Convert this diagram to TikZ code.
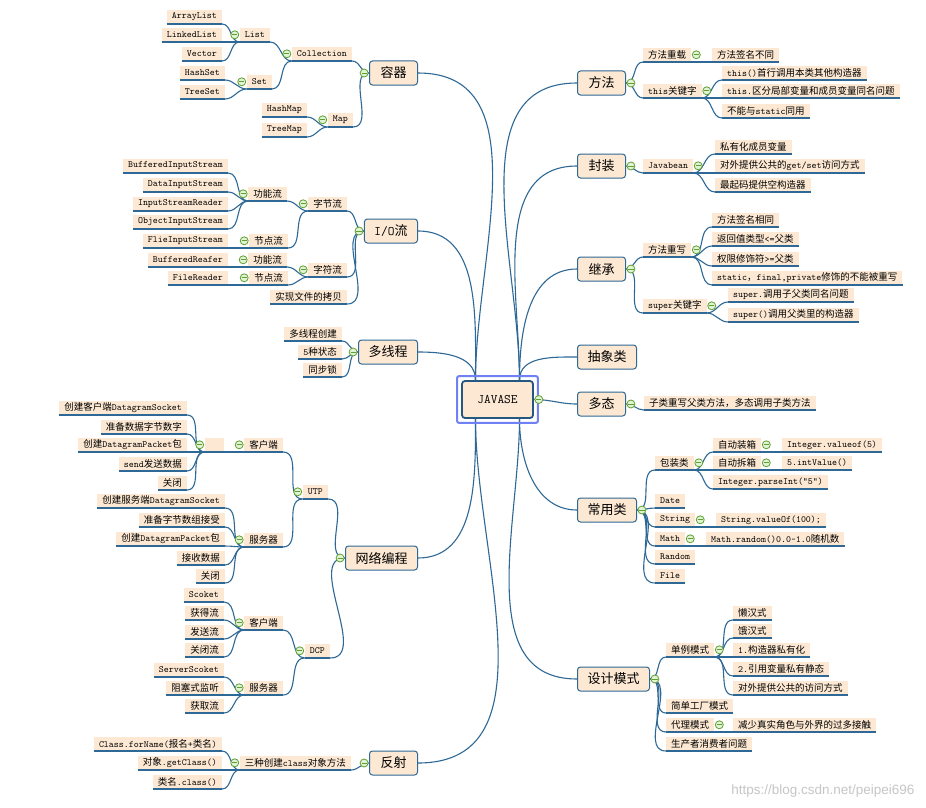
\documentclass[tikz,border=0pt]{standalone}
\usepackage{fontspec}
\usepackage{tikz}
\usetikzlibrary{positioning}

\newfontfamily\cjkfont{Noto Sans CJK SC}
\newfontfamily\wmfont{Liberation Sans}

% Chinese characters switch to the CJK family, everything else stays mono
\XeTeXinterchartokenstate=1
\newXeTeXintercharclass\cjkclass
\newcount\cjkcount
\cjkcount="4E00
\loop \XeTeXcharclass\cjkcount=\cjkclass \advance\cjkcount by 1 \ifnum\cjkcount<"A000 \repeat
\cjkcount="3000
\loop \XeTeXcharclass\cjkcount=\cjkclass \advance\cjkcount by 1 \ifnum\cjkcount<"3040 \repeat
\cjkcount="FF00
\loop \XeTeXcharclass\cjkcount=\cjkclass \advance\cjkcount by 1 \ifnum\cjkcount<"FFF0 \repeat
\XeTeXinterchartoks 0 \cjkclass = {\cjkfont}
\XeTeXinterchartoks 4095 \cjkclass = {\cjkfont}
\XeTeXinterchartoks \cjkclass 0 = {\ttfamily}

\definecolor{boxfill}{RGB}{253,233,211}
\definecolor{linkblue}{RGB}{46,104,150}
\definecolor{rootline}{RGB}{36,88,128}
\definecolor{togline}{RGB}{96,160,50}
\definecolor{togfill}{RGB}{226,242,212}
\definecolor{glowblue}{RGB}{112,128,245}

\newcommand\leaffont{\fontsize{9.5}{11}\selectfont\ttfamily}
\newcommand\topicfont{\fontsize{13}{15}\selectfont\ttfamily}
\newcommand\rootfont{\fontsize{13}{15}\selectfont\ttfamily}

\begin{document}
\begin{tikzpicture}[
    x=1pt, y=-1pt,
    link/.style={draw=linkblue, line width=1.1pt},
    root/.style={rectangle, rounded corners=3pt, draw=rootline, line width=1.8pt, fill=boxfill, minimum width=71pt, minimum height=37pt, font=\rootfont},
    topic/.style={rectangle, rounded corners=3pt, draw=linkblue, line width=1pt, fill=boxfill, minimum width=48pt, minimum height=24pt, inner xsep=10pt, font=\topicfont},
    leaf/.style={rectangle, fill=boxfill, inner xsep=5pt, inner ysep=0pt, minimum height=14pt, font=\leaffont,
        append after command={(\tikzlastnode.south west) edge[link] (\tikzlastnode.south east)}},
    lleaf/.style={leaf, anchor=south east},
    rleaf/.style={leaf, anchor=south west},
    tog/.style={circle, draw=togline, fill=togfill, line width=0.8pt, inner sep=0pt, minimum size=8pt,
        path picture={\draw[togline, line width=0.9pt] ([xshift=-2.6pt]path picture bounding box.center) -- ([xshift=2.6pt]path picture bounding box.center);}}
]
\useasboundingbox (0,0) rectangle (926,808);
\fill[white] (0,0) rectangle (926,808);

\node[root] (root) at (497.5,399.5) {JAVASE};

\node[topic, anchor=east] (cont) at (418,73) {容器};
\node[topic, anchor=east] (io) at (418,231) {I/O流};
\node[topic, anchor=east] (thread) at (418,352) {多线程};
\node[topic, anchor=east] (net) at (418,558) {网络编程};
\node[topic, anchor=east] (refl) at (418,763) {反射};

\node[topic, anchor=west] (meth) at (577,83) {方法};
\node[topic, anchor=west] (encap) at (577,166) {封装};
\node[topic, anchor=west] (inher) at (577,269) {继承};
\node[topic, anchor=west] (abs) at (577,357) {抽象类};
\node[topic, anchor=west] (poly) at (577,404) {多态};
\node[topic, anchor=west] (util) at (577,510) {常用类};
\node[topic, anchor=west] (design) at (577,679) {设计模式};

\node[lleaf] (arraylist) at (222,24) {ArrayList};
\node[lleaf] (linkedlist) at (222,42) {LinkedList};
\node[lleaf] (vector) at (222,61) {Vector};
\node[lleaf] (list) at (270,42) {List};
\node[lleaf] (hashset) at (225,80) {HashSet};
\node[lleaf] (treeset) at (225,99) {TreeSet};
\node[lleaf] (set) at (272,89) {Set};
\node[lleaf] (coll) at (352,61) {Collection};
\node[lleaf] (hashmap) at (307,117) {HashMap};
\node[lleaf] (treemap) at (307,137) {TreeMap};
\node[lleaf] (map) at (353,127) {Map};

\node[lleaf] (bis) at (228,173) {BufferedInputStream};
\node[lleaf] (dis) at (228,192) {DataInputStream};
\node[lleaf] (isr) at (228,211) {InputStreamReader};
\node[lleaf] (ois) at (228,229) {ObjectInputStream};
\node[lleaf] (bfunc) at (287,201) {功能流};
\node[lleaf] (fis) at (228,248) {FlieInputStream};
\node[lleaf] (bnode) at (288,248) {节点流};
\node[lleaf] (bytes) at (347,211) {字节流};
\node[lleaf] (br) at (228,267) {BufferedReafer};
\node[lleaf] (cfunc) at (287,267) {功能流};
\node[lleaf] (fr) at (228,285) {FileReader};
\node[lleaf] (cnode) at (288,285) {节点流};
\node[lleaf] (chars) at (347,277) {字符流};
\node[lleaf] (copy) at (347,304) {实现文件的拷贝};

\node[lleaf] (tcreate) at (342,341) {多线程创建};
\node[lleaf] (tstate) at (342,359) {5种状态};
\node[lleaf] (tlock) at (342,377) {同步锁};

\node[lleaf] (uc1) at (187,415) {创建客户端DatagramSocket};
\node[lleaf] (uc2) at (187,434) {准备数据字节数字};
\node[lleaf] (uc3) at (187,452) {创建DatagramPacket包};
\node[lleaf] (uc4) at (187,471) {send发送数据};
\node[lleaf] (uc5) at (187,490) {关闭};
\node[lleaf, minimum width=19pt] (ublank) at (224,452) {};
\node[lleaf] (uclient) at (283,452) {客户端};
\node[lleaf] (us1) at (225,508) {创建服务端DatagramSocket};
\node[lleaf] (us2) at (225,527) {准备字节数组接受};
\node[lleaf] (us3) at (225,546) {创建DatagramPacket包};
\node[lleaf] (us4) at (225,565) {接收数据};
\node[lleaf] (us5) at (225,583) {关闭};
\node[lleaf] (userver) at (283,547) {服务器};
\node[lleaf] (utp) at (328,499) {UTP};

\node[lleaf] (dc1) at (224,602) {Scoket};
\node[lleaf] (dc2) at (224,620) {获得流};
\node[lleaf] (dc3) at (224,639) {发送流};
\node[lleaf] (dc4) at (224,657) {关闭流};
\node[lleaf] (dclient) at (283,630) {客户端};
\node[lleaf] (ds1) at (224,677) {ServerScoket};
\node[lleaf] (ds2) at (224,695) {阻塞式监听};
\node[lleaf] (ds3) at (224,713) {获取流};
\node[lleaf] (dserver) at (283,695) {服务器};
\node[lleaf] (dcp) at (330,658) {DCP};

\node[lleaf] (r1) at (222,751) {Class.forName(报名+类名)};
\node[lleaf] (r2) at (222,770) {对象.getClass()};
\node[lleaf] (r3) at (222,789) {类名.class()};
\node[lleaf] (rmeth) at (351,770) {三种创建class对象方法};

\node[rleaf] (overload) at (643,62) {方法重载};
\node[rleaf] (ovl1) at (712,62) {方法签名不同};
\node[rleaf] (thiskw) at (643,98) {this关键字};
\node[rleaf] (th1) at (722,80) {this()首行调用本类其他构造器};
\node[rleaf] (th2) at (722,98) {this.区分局部变量和成员变量同名问题};
\node[rleaf] (th3) at (722,118) {不能与static同用};

\node[rleaf] (javabean) at (643,173) {Javabean};
\node[rleaf] (jb1) at (715,154) {私有化成员变量};
\node[rleaf] (jb2) at (715,173) {对外提供公共的get/set访问方式};
\node[rleaf] (jb3) at (715,192) {最起码提供空构造器};

\node[rleaf] (override) at (643,257) {方法重写};
\node[rleaf] (ov1) at (712,227) {方法签名相同};
\node[rleaf] (ov2) at (712,246) {返回值类型<=父类};
\node[rleaf] (ov3) at (712,266) {权限修饰符>=父类};
\node[rleaf] (ov4) at (712,285) {static，final,private修饰的不能被重写};
\node[rleaf] (superkw) at (643,313) {super关键字};
\node[rleaf] (su1) at (728,302) {super.调用子父类同名问题};
\node[rleaf] (su2) at (728,322) {super()调用父类里的构造器};

\node[rleaf] (poly1) at (644,410) {子类重写父类方法，多态调用子类方法};

\node[rleaf] (wrap) at (655,470) {包装类};
\node[rleaf] (autobox) at (713,452) {自动装箱};
\node[rleaf] (box1) at (782,452) {Integer.valueof(5)};
\node[rleaf] (unbox) at (713,470) {自动拆箱};
\node[rleaf] (unbox1) at (782,470) {5.intValue()};
\node[rleaf] (parse) at (713,489) {Integer.parseInt("5")};
\node[rleaf] (date) at (655,508) {Date};
\node[rleaf] (string) at (655,527) {String};
\node[rleaf] (str1) at (716,527) {String.valueOf(100);};
\node[rleaf] (math) at (655,546) {Math};
\node[rleaf] (math1) at (706,546) {Math.random()0.0\textasciitilde1.0随机数};
\node[rleaf] (random) at (655,564) {Random};
\node[rleaf] (file) at (655,583) {File};

\node[rleaf] (single) at (666,657) {单例模式};
\node[rleaf] (s1) at (733,620) {懒汉式};
\node[rleaf] (s2) at (733,638) {饿汉式};
\node[rleaf] (s3) at (733,657) {1.构造器私有化};
\node[rleaf] (s4) at (733,676) {2.引用变量私有静态};
\node[rleaf] (s5) at (733,695) {对外提供公共的访问方式};
\node[rleaf] (factory) at (666,713) {简单工厂模式};
\node[rleaf] (proxy) at (666,732) {代理模式};
\node[rleaf] (proxy1) at (733,732) {减少真实角色与外界的过多接触};
\node[rleaf] (prodcons) at (666,751) {生产者消费者问题};

\coordinate (rootnw) at ([xshift=-22pt]root.north);
\coordinate (rootne) at ([xshift=22pt]root.north);
\coordinate (rootsw) at ([xshift=-22pt]root.south);
\coordinate (rootse) at ([xshift=22pt]root.south);

\foreach \t in {cont, io, thread}
    \draw[link] (rootnw) to[out=90,in=0] (\t.east);
\foreach \t in {meth, encap, inher, abs}
    \draw[link] (rootne) to[out=90,in=180] (\t.west);
\foreach \t in {net, refl}
    \draw[link] (rootsw) to[out=-90,in=0] (\t.east);
\foreach \t in {util, design}
    \draw[link] (rootse) to[out=-90,in=180] (\t.west);
\draw[link] (root.east) to[out=0,in=180] (poly.west);

\foreach \c/\p in {coll/cont, map/cont, bytes/io, chars/io, copy/io, tcreate/thread, tstate/thread, tlock/thread,
    utp/net, dcp/net, rmeth/refl}
    \draw[link] (\c.south east) to[out=0,in=180] (\p.west);
\foreach \c/\p in {arraylist/list, linkedlist/list, vector/list, hashset/set, treeset/set, list/coll, set/coll,
    hashmap/map, treemap/map, bis/bfunc, dis/bfunc, isr/bfunc, ois/bfunc, fis/bnode, br/cfunc, fr/cnode,
    bfunc/bytes, bnode/bytes, cfunc/chars, cnode/chars,
    uc1/ublank, uc2/ublank, uc3/ublank, uc4/ublank, uc5/ublank, ublank/uclient,
    us1/userver, us2/userver, us3/userver, us4/userver, us5/userver, uclient/utp, userver/utp,
    dc1/dclient, dc2/dclient, dc3/dclient, dc4/dclient, ds1/dserver, ds2/dserver, ds3/dserver,
    dclient/dcp, dserver/dcp, r1/rmeth, r2/rmeth, r3/rmeth}
    \draw[link] (\c.south east) to[out=0,in=180] (\p.south west);

\foreach \p/\c in {meth/overload, meth/thiskw, encap/javabean, inher/override, inher/superkw, poly/poly1,
    util/wrap, util/date, util/string, util/math, util/random, util/file,
    design/single, design/factory, design/proxy, design/prodcons}
    \draw[link] (\p.east) to[out=0,in=180] (\c.south west);
\foreach \p/\c in {overload/ovl1, thiskw/th1, thiskw/th2, thiskw/th3, javabean/jb1, javabean/jb2, javabean/jb3,
    override/ov1, override/ov2, override/ov3, override/ov4, superkw/su1, superkw/su2,
    wrap/autobox, wrap/unbox, wrap/parse, autobox/box1, unbox/unbox1, string/str1, math/math1,
    single/s1, single/s2, single/s3, single/s4, single/s5, proxy/proxy1}
    \draw[link] (\p.south east) to[out=0,in=180] (\c.south west);

\draw[glowblue, line width=2pt, rounded corners=2pt] ([shift={(-4pt,4pt)}]root.north west) rectangle ([shift={(4pt,-4pt)}]root.south east);

\foreach \n in {cont, coll, list, set, map, io, bytes, bfunc, bnode, chars, cfunc, cnode, thread,
    net, utp, uclient, ublank, userver, dcp, dclient, dserver, refl, rmeth}
    \node[tog, left=0.5pt of \n] (tog-\n) {};
\foreach \n in {root, meth, overload, thiskw, encap, javabean, inher, override, superkw, poly,
    util, wrap, autobox, unbox, string, math, design, single, proxy}
    \node[tog, right=0.5pt of \n] (tog-\n) {};

\node[anchor=south east, text=gray!45, font=\wmfont\fontsize{13.5}{15}\selectfont] (mark) at (918,801) {https://blog.csdn.net/peipei696};
\end{tikzpicture}
\end{document}
